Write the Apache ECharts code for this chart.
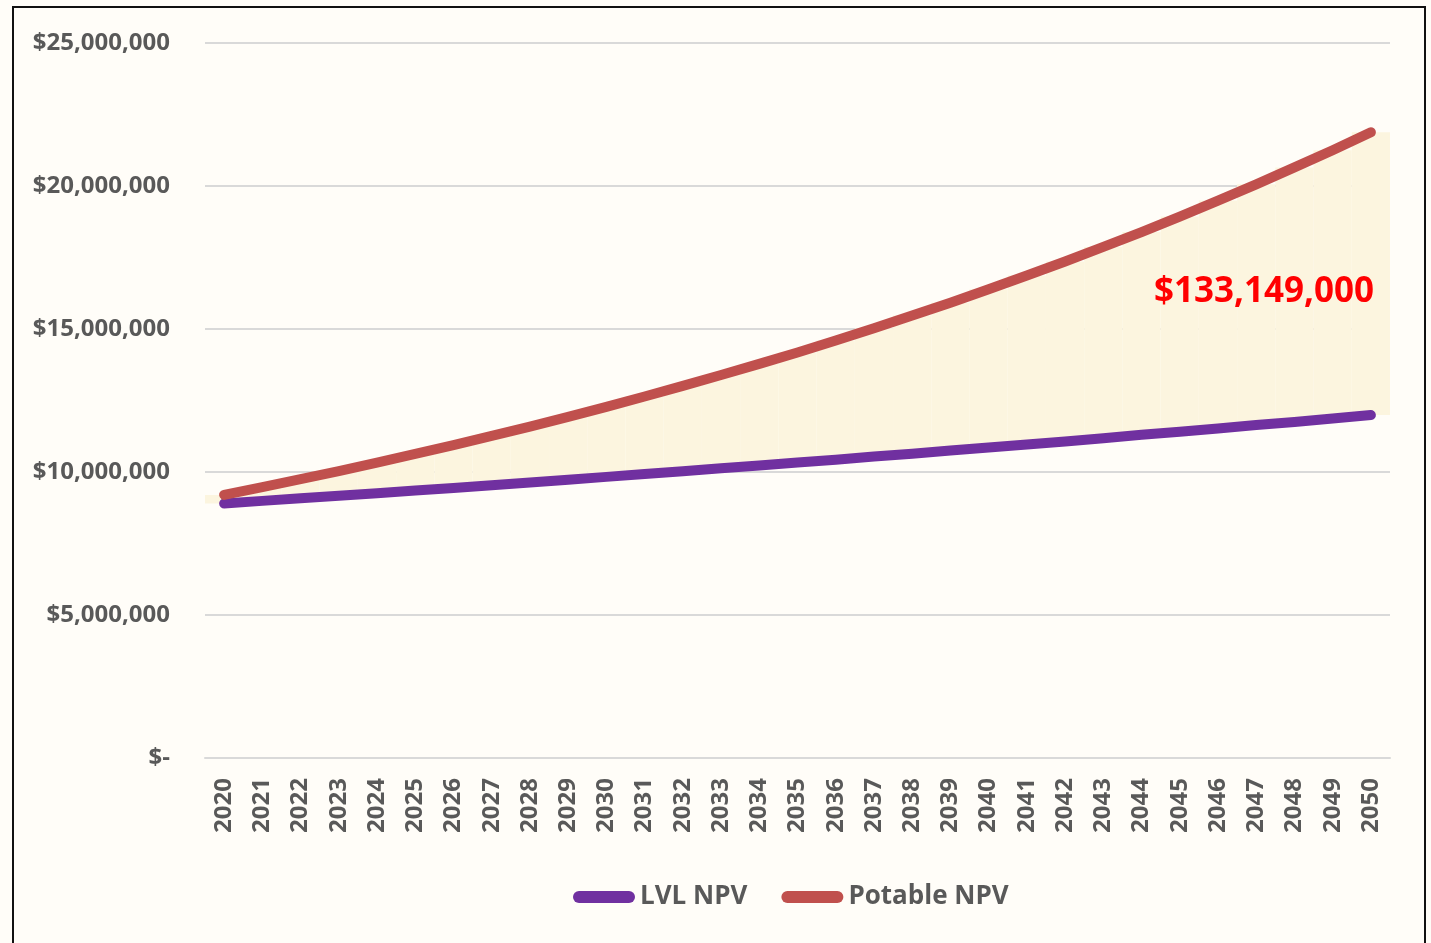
<!DOCTYPE html>
<html>
<head>
<meta charset="utf-8">
<script src="https://cdn.jsdelivr.net/npm/echarts@6/dist/echarts.min.js"></script>
<style>
html, body { margin:0; padding:0; background:#fffdf8; }
#frame { position:absolute; left:12px; top:6px; width:1414px; height:960px; border:2px solid #111; box-sizing:border-box; }
#chart { position:absolute; left:0; top:0; width:1431px; height:943px; }
</style>
</head>
<body>
<div id="frame"></div>
<div id="chart"></div>
<script>
// years on x axis
var years = [];
for (var y = 2020; y <= 2050; y++) years.push(String(y));

// LVL NPV ($M)
var lvlNpv = [8.90, 8.99, 9.08, 9.17, 9.26, 9.35, 9.44, 9.54, 9.63, 9.73,
	9.83, 9.93, 10.03, 10.13, 10.23, 10.33, 10.43, 10.54, 10.64, 10.75,
	10.86, 10.96, 11.07, 11.18, 11.30, 11.41, 11.52, 11.64, 11.75, 11.87, 11.99];
// Potable NPV ($M)
var potableNpv = [9.20, 9.47, 9.75, 10.03, 10.33, 10.63, 10.94, 11.26, 11.59, 11.93,
	12.28, 12.64, 13.01, 13.39, 13.78, 14.18, 14.60, 15.03, 15.47, 15.92,
	16.39, 16.87, 17.36, 17.87, 18.39, 18.93, 19.49, 20.06, 20.65, 21.25, 21.88];
var yTicks = [0, 5000000, 10000000, 15000000, 20000000, 25000000];
var totalLabel = '$133,149,000';

var lvl = lvlNpv.map(function(v){ return Math.round(v * 1000000); });
var pot = potableNpv.map(function(v){ return Math.round(v * 1000000); });
var gap = pot.map(function(v, i){ return v - lvl[i]; });

var chart = echarts.init(document.getElementById('chart'));
var font = '"Open Sans", sans-serif';
var grey = '#595959';

function money(v) {
	if (v === 0) return '$-';
	return '$' + String(v).replace(/\B(?=(\d{3})+(?!\d))/g, ',');
}

chart.setOption({
	animation: false,
	backgroundColor: 'transparent',
	grid: { left: 205, right: 41, top: 43, bottom: 185 },
	xAxis: {
		type: 'category',
		data: years,
		boundaryGap: true,
		axisLine: { lineStyle: { color: '#d9d9d9', width: 2 } },
		axisTick: { show: false },
		axisLabel: { rotate: 90, interval: 0, margin: 20, color: grey, fontFamily: font, fontWeight: 'bold', fontSize: 24 }
	},
	yAxis: {
		type: 'value',
		min: yTicks[0],
		max: yTicks[yTicks.length - 1],
		interval: 5000000,
		axisLine: { show: false },
		axisTick: { show: false },
		splitLine: { lineStyle: { color: '#d9d9d9', width: 2 } },
		axisLabel: { margin: 35, color: grey, fontFamily: font, fontWeight: 'bold', fontSize: 24, formatter: money }
	},
	legend: {
		data: ['LVL NPV', 'Potable NPV'],
		bottom: 28,
		left: 568,
		itemWidth: 62,
		itemHeight: 12,
		itemGap: 34,
		icon: 'path://M6,0 H56 A6,6 0 0 1 56,12 H6 A6,6 0 0 1 6,0 Z',
		textStyle: { color: grey, fontFamily: font, fontWeight: 'bold', fontSize: 26 }
	},
	series: [
		{
			name: 'base', type: 'bar', stack: 'fill', data: lvl,
			itemStyle: { color: 'rgba(0,0,0,0)' }, barCategoryGap: '0%', silent: true, z: 1
		},
		{
			name: 'gap', type: 'bar', stack: 'fill', data: gap,
			itemStyle: { color: '#fcf5df' }, barCategoryGap: '0%', silent: true, z: 1
		},
		{
			name: 'LVL NPV', type: 'line', data: lvl, symbol: 'none', z: 3,
			itemStyle: { color: '#7030a0' },
			lineStyle: { color: '#7030a0', width: 10, cap: 'round', join: 'round' }
		},
		{
			name: 'Potable NPV', type: 'line', data: pot, symbol: 'none', z: 4,
			itemStyle: { color: '#c0504d' },
			lineStyle: { color: '#c0504d', width: 10, cap: 'round', join: 'round' }
		}
	],
	graphic: [{
		type: 'text',
		right: 57,
		top: 275,
		z: 10,
		style: { text: totalLabel, fill: '#ff0000', font: 'bold 35px ' + font }
	}]
});
</script>
</body>
</html>
